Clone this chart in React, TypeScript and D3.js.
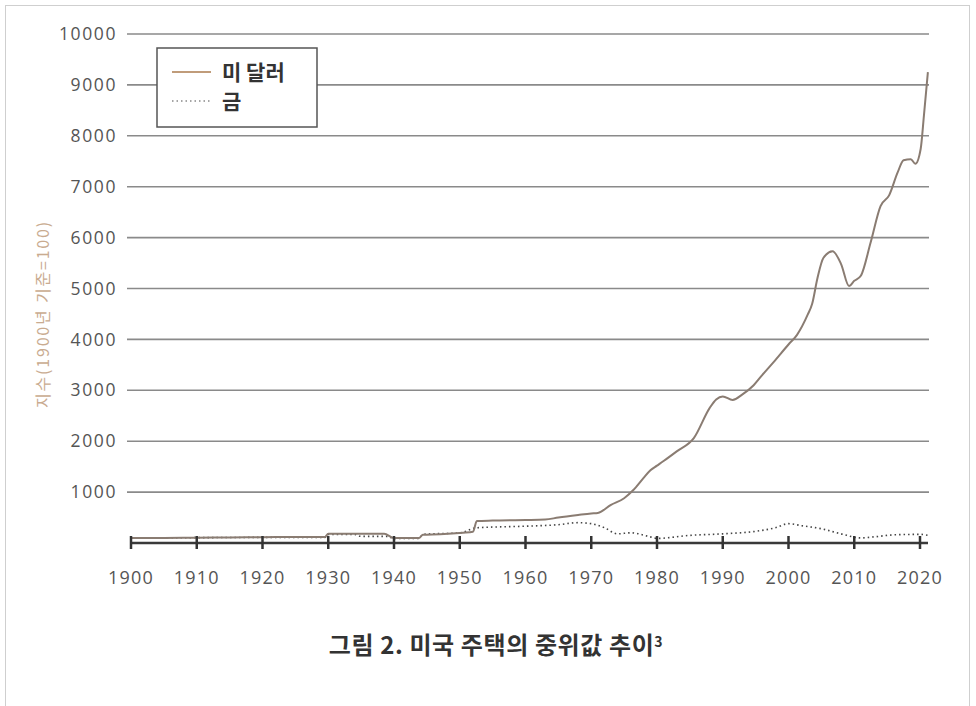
import React from "react";
import * as d3 from "d3";

const yTicks = [1000, 2000, 3000, 4000, 5000, 6000, 7000, 8000, 9000, 10000];
const xTicks = [1900, 1910, 1920, 1930, 1940, 1950, 1960, 1970, 1980, 1990, 2000, 2010, 2020];

const dollarYears = [1900, 1905, 1910, 1915, 1920, 1925, 1929.5, 1930, 1935, 1938.5, 1940, 1943.8, 1944.4, 1947, 1950.5, 1952, 1952.6, 1955, 1960, 1963, 1965, 1968, 1970, 1971, 1973, 1975, 1976.4, 1977.9, 1979, 1980, 1981, 1983, 1985.6, 1988, 1989, 1990, 1991.5, 1993, 1994.7, 1996, 1997.7, 2000, 2001.3, 2002.9, 2003.6, 2004.4, 2005.3, 2006.7, 2008, 2009.2, 2010, 2011, 2012.5, 2014, 2015.3, 2016.6, 2017.5, 2018.6, 2019.3, 2020.1, 2020.6, 2021.2];
const dollarValues = [100, 100, 105, 110, 115, 120, 120, 180, 180, 180, 100, 100, 160, 170, 200, 220, 430, 440, 450, 460, 500, 550, 580, 590, 750, 880, 1040, 1270, 1430, 1520, 1610, 1800, 2060, 2650, 2820, 2880, 2810, 2920, 3100, 3300, 3550, 3900, 4090, 4480, 4700, 5200, 5600, 5730, 5480, 5050, 5150, 5250, 5910, 6620, 6830, 7280, 7520, 7540, 7450, 7740, 8400, 9250];

const goldYears = [1900, 1910, 1920, 1929.5, 1930, 1934, 1935, 1939, 1940, 1943.8, 1944.4, 1950, 1952.6, 1960, 1965, 1968, 1970, 1972, 1974, 1976, 1979, 1980, 1985, 1990, 1995, 1998, 2000, 2002, 2005, 2008, 2011, 2013, 2016, 2020, 2021.2];
const goldValues = [100, 105, 110, 110, 170, 170, 130, 130, 90, 90, 170, 200, 300, 330, 360, 400, 380, 300, 180, 200, 120, 90, 150, 180, 230, 300, 380, 340, 280, 180, 100, 120, 160, 170, 150];

const legendLabels = ["미 달러", "금"];
const yAxisLabel = "지수(1900년 기준=100)";
const titleText = "그림 2. 미국 주택의 중위값 추이";

export default function App() {
  const x = d3.scaleLinear().domain([1900, 2020]).range([131, 920]);
  const y = d3.scaleLinear().domain([0, 10000]).range([543, 34]);

  const dollar = dollarYears.map((yr, i) => [yr, dollarValues[i]] as [number, number]);
  const gold = goldYears.map((yr, i) => [yr, goldValues[i]] as [number, number]);

  const line = d3
    .line<[number, number]>()
    .x((d) => x(d[0]))
    .y((d) => y(d[1]))
    .curve(d3.curveMonotoneX);

  const seriesColor = "#8a7c72";
  const tickFont = "'Open Sans', 'DejaVu Sans', sans-serif";

  return (
    <svg
      width={976}
      height={706}
      style={{ position: "absolute", left: 0, top: 0, background: "#fff" }}
    >
      <rect x={0} y={0} width={976} height={706} fill="#fff" />
      <rect x={5.5} y={5.5} width={964} height={720} fill="none" stroke="#cfcfcf" strokeWidth={1} />

      {/* gridlines */}
      {yTicks.map((t) => (
        <line key={t} x1={127} x2={929} y1={y(t)} y2={y(t)} stroke="#8a8a8a" strokeWidth={1.6} />
      ))}

      {/* y tick labels */}
      {yTicks.map((t) => (
        <text
          key={"yl" + t}
          x={117}
          y={y(t)}
          dy="0.35em"
          textAnchor="end"
          fontFamily={tickFont}
          fontSize={17.5}
          letterSpacing={1.6}
          fill="#555"
        >
          {t}
        </text>
      ))}

      {/* y axis title */}
      <text
        transform={`translate(43, ${314}) rotate(-90)`}
        textAnchor="middle"
        dy="0.35em"
        fontFamily="'Noto Sans CJK KR', sans-serif"
        fontSize={16}
        letterSpacing={1.8}
        fill="#c9ab90"
      >
        {yAxisLabel}
      </text>

      {/* gold dotted line */}
      <path d={line(gold) || ""} fill="none" stroke="#444" strokeWidth={1.6} strokeDasharray="1.5,3" />

      {/* dollar line */}
      <path d={line(dollar) || ""} fill="none" stroke={seriesColor} strokeWidth={2} />

      {/* x axis */}
      <line x1={x(1900)} x2={928} y1={y(0)} y2={y(0)} stroke="#3a3a3a" strokeWidth={2.5} />
      {xTicks.map((t) => (
        <line key={"xt" + t} x1={x(t)} x2={x(t)} y1={y(0) - 7} y2={y(0) + 6} stroke="#333" strokeWidth={2.5} />
      ))}
      {xTicks.map((t) => (
        <text
          key={"xl" + t}
          x={x(t)}
          y={578}
          dy="0.35em"
          textAnchor="middle"
          fontFamily={tickFont}
          fontSize={18}
          letterSpacing={1.2}
          fill="#555"
        >
          {t}
        </text>
      ))}

      {/* legend */}
      <rect x={157} y={48} width={160} height={79} fill="#fff" stroke="#555" strokeWidth={1.5} />
      <line x1={172} x2={211} y1={72} y2={72} stroke="#c09c7a" strokeWidth={2} />
      <text x={222} y={73} dy="0.35em" fontFamily="'Noto Sans CJK KR', sans-serif" fontSize={21} fontWeight={700} fill="#333">
        {legendLabels[0]}
      </text>
      <line x1={172} x2={211} y1={101} y2={101} stroke="#888" strokeWidth={1.5} strokeDasharray="1.5,3" />
      <text x={222} y={102} dy="0.35em" fontFamily="'Noto Sans CJK KR', sans-serif" fontSize={21} fontWeight={700} fill="#333">
        {legendLabels[1]}
      </text>

      {/* caption */}
      <text
        x={496}
        y={646}
        dy="0.35em"
        textAnchor="middle"
        fontFamily="'Noto Sans CJK KR', sans-serif"
        fontSize={24}
        fontWeight={700}
        letterSpacing={0.6}
        fill="#333"
      >
        {titleText}
        <tspan dy="-0.5em" fontSize={14}>3</tspan>
      </text>
    </svg>
  );
}
